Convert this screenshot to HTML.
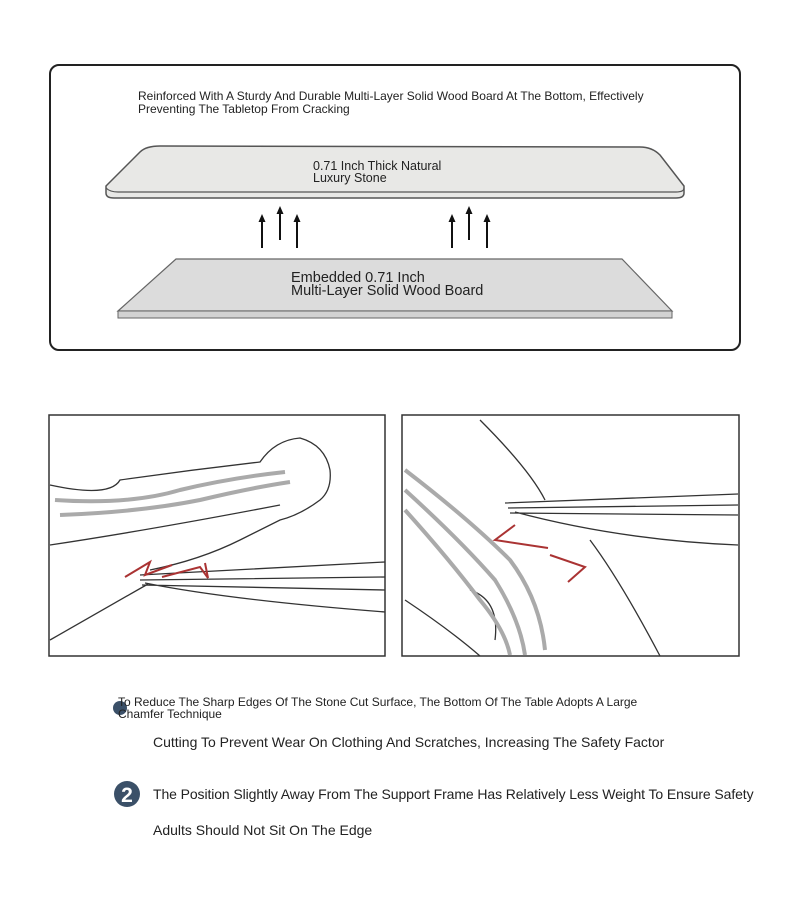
<!DOCTYPE html>
<html><head><meta charset="utf-8"><style>
body{margin:0;background:#fff;width:790px;height:904px;position:relative;overflow:hidden;font-family:"Liberation Sans Narrow","Liberation Sans",sans-serif;color:#222}
.t{position:absolute;white-space:nowrap}
</style></head><body>
<svg width="790" height="904" style="position:absolute;left:0;top:0">
<defs><marker id="a" markerUnits="userSpaceOnUse" markerWidth="8" markerHeight="8" refX="2" refY="4" orient="auto"><path d="M0,0.5 L8,4 L0,7.5z" fill="#111"/></marker></defs>
<rect x="50" y="65" width="690" height="285" rx="9" fill="#fff" stroke="#222" stroke-width="2"/>
<path d="M106,186 L140,152 Q146,146 160,146 L640,147 Q652,147 660,155 L684,186 L684,193 Q684,198 676,198 L114,198 Q106,198 106,193Z" fill="#e8e8e6" stroke="#555" stroke-width="1.5"/>
<path d="M106,188 Q110,192 118,192 L676,192 Q684,192 684,188" fill="none" stroke="#555" stroke-width="1.2"/>
<path d="M118,311 L176,259 L622,259 L672,311Z" fill="#dcdcdc" stroke="#666" stroke-width="1.2"/>
<rect x="118" y="311" width="554" height="7" fill="#d2d2d2" stroke="#666" stroke-width="1"/>
<g stroke="#111" stroke-width="2" marker-end="url(#a)">
<line x1="262" y1="248" x2="262" y2="220"/><line x1="280" y1="240" x2="280" y2="212"/><line x1="297" y1="248" x2="297" y2="220"/>
<line x1="452" y1="248" x2="452" y2="220"/><line x1="469" y1="240" x2="469" y2="212"/><line x1="487" y1="248" x2="487" y2="220"/>
</g>
<rect x="49" y="415" width="336" height="241" fill="#fff" stroke="#333" stroke-width="1.5"/>
<g fill="none" stroke="#333" stroke-width="1.3">
<path d="M50,485 Q110,498 120,480 Q190,470 260,462 Q275,440 300,438 Q325,445 330,470 Q332,490 320,500 Q300,515 280,520 L240,540 Q200,560 150,570"/>
<path d="M50,545 Q150,530 280,505"/>
<path d="M140,575 L385,562 M140,580 L385,577 M142,585 L385,590 M145,583 Q230,600 385,612"/>
<path d="M50,640 Q120,600 148,584"/>
</g>
<g fill="none" stroke="#aaa" stroke-width="4"><path d="M55,500 Q130,505 180,490 Q230,478 285,472"/><path d="M60,515 Q140,512 200,500 Q250,488 290,482"/></g>
<path d="M125,577 L150,562 L145,575 L172,565" fill="none" stroke="#a33" stroke-width="2"/>
<path d="M162,577 L200,567 L208,578 L205,563" fill="none" stroke="#a33" stroke-width="2"/>
<rect x="402" y="415" width="337" height="241" fill="#fff" stroke="#333" stroke-width="1.5"/>
<g fill="none" stroke="#333" stroke-width="1.3">
<path d="M480,420 Q530,470 545,500"/>
<path d="M505,503 L738,494 M508,508 L738,505 M510,513 L738,515 M515,512 Q620,540 738,545"/>
<path d="M590,540 Q620,580 660,656"/>
<path d="M405,600 Q450,630 480,656 M470,590 Q500,600 495,640"/>
</g>
<g fill="none" stroke="#aaa" stroke-width="4"><path d="M405,470 Q470,520 510,560 Q540,600 545,650"/><path d="M405,490 Q460,540 495,580 Q520,620 525,655"/><path d="M405,510 Q450,560 480,600 Q505,630 510,655"/></g>
<path d="M548,548 L495,540 L515,525" fill="none" stroke="#a33" stroke-width="2"/>
<path d="M550,555 L585,567 L568,582" fill="none" stroke="#a33" stroke-width="2"/>
<circle cx="120" cy="708" r="7" fill="#3b5068"/>
<circle cx="127" cy="794" r="13" fill="#3b5068"/>
<text x="127" y="802" font-family="Liberation Sans" font-weight="bold" font-size="21" fill="#fff" text-anchor="middle">2</text>
</svg>
<div class="t" style="left:138px;top:90px;font-size:12px;line-height:13px">Reinforced With A Sturdy And Durable Multi-Layer Solid Wood Board At The Bottom, Effectively<br>Preventing The Tabletop From Cracking</div>
<div class="t" style="left:313px;top:160px;font-size:12.5px;line-height:12px">0.71 Inch Thick Natural<br>Luxury Stone</div>
<div class="t" style="left:291px;top:272px;font-size:14.5px;line-height:13px">Embedded 0.71 Inch<br>Multi-Layer Solid Wood Board</div>
<div class="t" style="left:118px;top:696px;font-size:12px;line-height:12px">To Reduce The Sharp Edges Of The Stone Cut Surface, The Bottom Of The Table Adopts A Large<br>Chamfer Technique</div>
<div class="t" style="left:153px;top:734px;font-size:14px">Cutting To Prevent Wear On Clothing And Scratches, Increasing The Safety Factor</div>
<div class="t" style="left:153px;top:786px;font-size:14px;letter-spacing:-0.1px">The Position Slightly Away From The Support Frame Has Relatively Less Weight To Ensure Safety</div>
<div class="t" style="left:153px;top:822px;font-size:14px">Adults Should Not Sit On The Edge</div>
</body></html>
